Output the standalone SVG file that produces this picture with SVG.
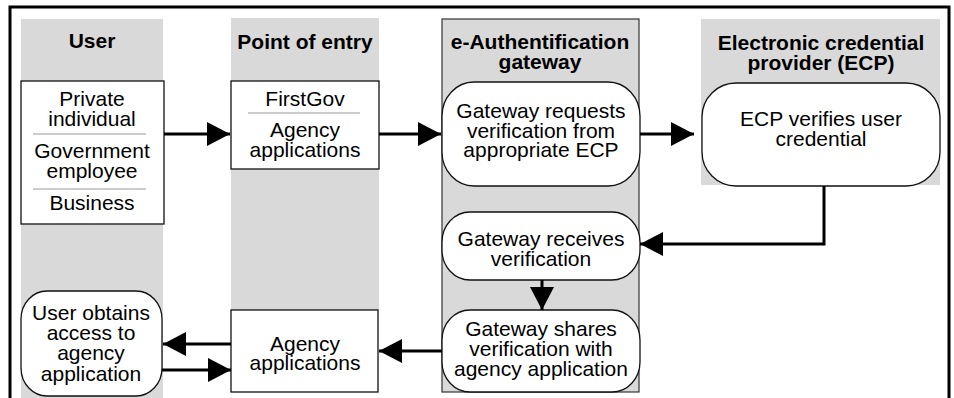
<svg xmlns="http://www.w3.org/2000/svg" width="954" height="398" viewBox="0 0 954 398">
<defs>
<style>
.band{fill:#d9d9d9;stroke:none}
.box{fill:#fff;stroke:#111;stroke-width:1.3}
.sep{stroke:#9a9a9a;stroke-width:1.2}
.t{font-family:"Liberation Sans",Arial,Helvetica,sans-serif;font-size:21px;fill:#000;text-anchor:middle}
.h{font-weight:bold}
.c{fill:none;stroke:#000;stroke-width:3;marker-end:url(#ah)}
</style>
<marker id="ah" markerUnits="userSpaceOnUse" markerWidth="23" markerHeight="24" refX="23" refY="12" orient="auto">
<path d="M0,0 L23,12 L0,24 Z" fill="#000"/>
</marker>
</defs>
<rect width="954" height="398" fill="#fff"/>
<path d="M10,400 V7 H949 V400" fill="none" stroke="#000" stroke-width="3"/>

<g id="lane-user">
<rect class="band" x="21" y="19" width="142" height="379"/>
<text class="t h" x="92" y="48">User</text>
</g>
<g id="lane-entry">
<rect class="band" x="231" y="18" width="148" height="292"/>
<text class="t h" x="305" y="49">Point of entry</text>
</g>
<g id="lane-gateway">
<rect x="442" y="19" width="197" height="373" fill="#d9d9d9" stroke="#333" stroke-width="1.2"/>
<text class="t h" x="540" y="49">e-Authentification</text>
<text class="t h" x="540" y="69">gateway</text>
</g>
<g id="lane-ecp">
<rect class="band" x="701" y="19" width="239" height="166"/>
<text class="t h" x="821" y="50">Electronic credential</text>
<text class="t h" x="821" y="70">provider (ECP)</text>
</g>

<g id="user-types">
<rect class="box" x="21" y="81" width="143" height="143"/>
<line class="sep" x1="33" y1="134" x2="146" y2="134"/>
<line class="sep" x1="33" y1="189" x2="146" y2="189"/>
<text class="t" x="92" y="106">Private</text>
<text class="t" x="92" y="126">individual</text>
<text class="t" x="92" y="158">Government</text>
<text class="t" x="92" y="178">employee</text>
<text class="t" x="92" y="210">Business</text>
</g>

<g id="entry-points">
<rect class="box" x="231" y="81" width="148" height="88"/>
<line class="sep" x1="248" y1="113" x2="360" y2="113"/>
<text class="t" x="305" y="106">FirstGov</text>
<text class="t" x="305" y="137">Agency</text>
<text class="t" x="305" y="157">applications</text>
</g>

<g id="gw-request">
<rect class="box" x="442" y="82" width="198" height="104" rx="32" ry="34"/>
<text class="t" x="541" y="118">Gateway requests</text>
<text class="t" x="541" y="138">verification from</text>
<text class="t" x="541" y="157">appropriate ECP</text>
</g>

<g id="ecp-verify">
<rect class="box" x="702" y="83" width="238" height="103" rx="34" ry="34"/>
<text class="t" x="821" y="126">ECP verifies user</text>
<text class="t" x="821" y="146">credential</text>
</g>

<g id="gw-receive">
<rect class="box" x="442" y="212" width="198" height="68" rx="28" ry="30"/>
<text class="t" x="541" y="246">Gateway receives</text>
<text class="t" x="541" y="266">verification</text>
</g>

<g id="gw-share">
<rect class="box" x="442" y="310" width="198" height="82" rx="28" ry="30"/>
<text class="t" x="541" y="336">Gateway shares</text>
<text class="t" x="541" y="356">verification with</text>
<text class="t" x="541" y="376">agency application</text>
</g>

<g id="agency-apps">
<rect class="box" x="231" y="310" width="147" height="82"/>
<text class="t" x="305" y="351">Agency</text>
<text class="t" x="305" y="370">applications</text>
</g>

<g id="user-access">
<rect class="box" x="21" y="291" width="141" height="105" rx="26" ry="28"/>
<text class="t" x="91" y="320">User obtains</text>
<text class="t" x="91" y="340">access to</text>
<text class="t" x="91" y="360">agency</text>
<text class="t" x="91" y="381">application</text>
</g>

<g id="connectors">
<path class="c" d="M164,134 H230"/>
<path class="c" d="M379,134 H441"/>
<path class="c" d="M640,134 H694"/>
<path class="c" d="M824,186 V244 H640"/>
<path class="c" d="M542,280 V310"/>
<path class="c" d="M442,351 H379"/>
<path class="c" d="M231,344 H163"/>
<path class="c" d="M162,370 H231"/>
</g>
</svg>
